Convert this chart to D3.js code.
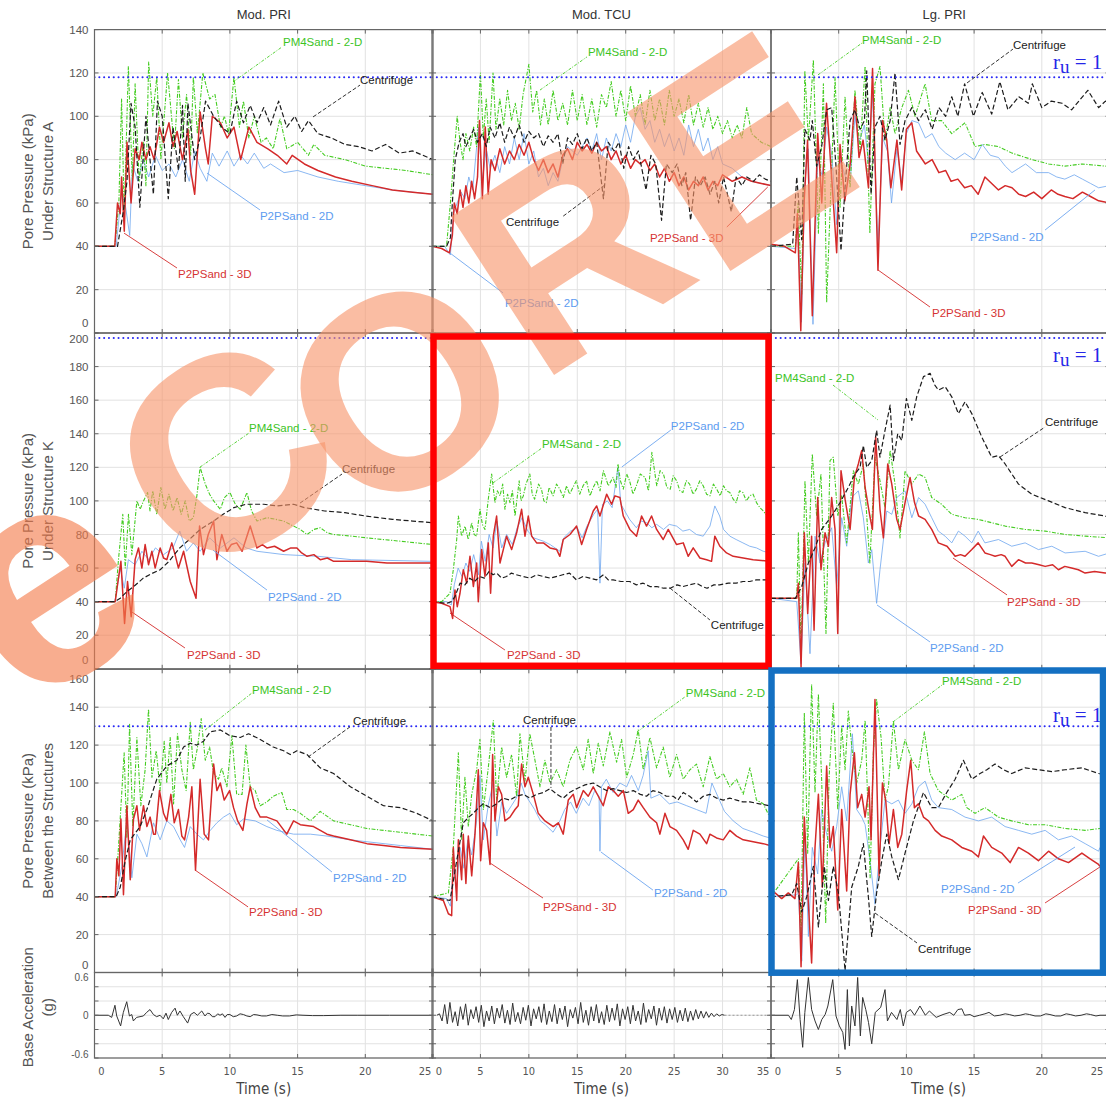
<!DOCTYPE html>
<html>
<head>
<meta charset="utf-8">
<script src="https://cdn.jsdelivr.net/npm/d3@7"></script>
<style>
  body { margin: 0; background: #fff; }
  text { font-family: "Liberation Sans", Arial, sans-serif; }
</style>
</head>
<body>
<div id="chart"></div>
<script>
// ---- pore pressure series, [time (s), kPa] ----
// Under Structure A
const a_pri_3d = [[0,40],[1.5,40],[1.7,60],[1.9,55],[2.0,72],[2.2,47],[2.4,88],[2.7,60],[3.0,85],[3.3,80],[3.5,88],[3.8,80],[4.1,86],[4.4,80],[4.8,95],[5.1,88],[5.5,97],[5.8,86],[6.1,93],[6.5,80],[6.9,94],[7.1,75],[7.4,64],[7.8,102],[8.2,85],[8.4,78],[8.7,100],[9.3,97],[9.8,90],[10.3,95],[10.8,80],[11.4,95],[12,88],[12.8,85],[13.5,82],[14.2,78],[14.6,82],[15.5,78],[16.5,75],[17.8,72],[19,70],[20.5,68],[22,66],[23.5,65],[25,64]];
const a_pri_pm4 = [[0,40],[1.5,40],[1.8,60],[2.0,108],[2.2,55],[2.5,123],[2.8,70],[3.0,115],[3.3,70],[3.6,88],[3.8,68],[4.0,125],[4.3,100],[4.6,118],[4.9,80],[5.4,120],[5.9,85],[6.2,117],[6.5,90],[6.8,110],[7.1,82],[7.3,118],[7.6,92],[8.0,120],[8.5,108],[8.9,110],[9.3,95],[9.6,100],[9.9,92],[10.3,118],[10.7,95],[11.0,107],[11.4,90],[11.8,100],[12.3,88],[12.7,90],[13.2,85],[13.7,99],[14.2,85],[15.0,88],[15.8,82],[16.2,87],[17.0,82],[18.5,80],[20,77],[21.5,76],[23,75],[25,73]];
const a_pri_cf = [[0,40],[1.7,40],[2.1,55],[2.4,70],[2.7,106],[3.0,95],[3.35,58],[3.8,100],[4.1,80],[4.35,64],[4.65,107],[5.0,100],[5.45,62],[5.8,95],[6.2,75],[6.5,105],[6.7,70],[6.9,106],[7.4,80],[7.8,90],[8.2,107],[8.8,100],[9.4,95],[10.0,92],[10.5,107],[11.0,97],[11.5,105],[12.0,97],[12.5,104],[13.0,96],[13.6,107],[14.2,95],[14.8,100],[15.3,93],[15.8,98],[16.5,92],[17.5,90],[18.5,87],[19.5,86],[20.5,84],[21.5,87],[22.5,83],[23.5,84],[25,80]];
const a_pri_2d = [[0,40],[1.6,40],[2.0,65],[2.3,58],[2.6,45],[2.8,78],[3.2,70],[3.6,80],[4.0,72],[4.5,82],[5.0,75],[5.5,78],[6.0,72],[6.5,80],[7.0,70],[7.4,84],[7.8,76],[8.3,70],[8.7,83],[9.2,77],[9.8,84],[10.3,77],[10.8,82],[11.3,78],[11.8,83],[12.5,76],[13.0,78],[14,74],[15,75],[16.5,72],[18,70],[20,68],[22,66],[25,64]];

const a_tcu_3d = [[0,40],[1.0,39],[1.8,37],[2.1,45],[2.3,60],[2.6,55],[2.9,66],[3.2,58],[3.5,68],[3.8,60],[4.1,70],[4.4,62],[4.7,72],[4.9,98],[5.2,62],[5.5,95],[5.8,64],[6.1,80],[6.5,75],[7,85],[7.5,78],[8,84],[8.5,80],[9,87],[9.5,82],[10,88],[10.5,80],[11,75],[11.5,80],[12,74],[12.5,78],[13,72],[13.5,82],[14,85],[14.5,80],[15,88],[15.5,84],[16,87],[16.5,83],[17,88],[17.5,84],[18,86],[18.5,80],[19,84],[19.5,78],[20,82],[20.5,76],[21,80],[21.5,78],[22,80],[22.5,75],[23,78],[23.5,72],[24,76],[24.5,70],[25,74],[25.5,68],[26,72],[26.5,66],[27,70],[27.5,68],[28,72],[28.5,66],[29,70],[29.5,68],[30,73],[31,70],[32,72],[33,70],[34,69],[35,68]];
const a_tcu_cf = [[0,40],[1.5,40],[1.9,44],[2.1,60],[2.4,80],[2.8,88],[3.2,92],[3.5,86],[3.9,90],[4.3,94],[4.7,88],[5.2,92],[5.6,86],[6.0,95],[6.5,90],[7.0,97],[7.5,88],[8.0,95],[8.5,90],[9.0,96],[9.5,88],[10,93],[10.5,90],[11,92],[11.5,86],[12,91],[12.5,88],[13,92],[13.5,78],[14,90],[14.5,87],[15,92],[15.5,85],[16,90],[16.5,84],[17,88],[17.7,62],[18.2,88],[18.8,84],[19.3,88],[19.8,76],[20.3,86],[20.8,80],[21.3,84],[22.1,66],[22.6,82],[23.1,78],[23.7,52],[24.2,78],[24.8,74],[25.3,78],[25.8,68],[26.2,74],[26.7,52],[27.2,72],[27.7,68],[28.2,72],[28.7,64],[29.2,70],[29.6,60],[30.1,72],[30.9,56],[31.4,72],[32,68],[32.5,72],[33.2,70],[33.8,73],[34.4,71],[35,70]];
const a_tcu_pm4 = [[0,40],[1.5,40],[1.9,60],[2.2,78],[2.6,100],[2.9,88],[3.2,80],[3.5,92],[3.9,84],[4.3,95],[4.6,86],[5.0,120],[5.3,90],[5.6,108],[5.9,88],[6.3,120],[6.6,94],[7.0,108],[7.4,96],[7.8,112],[8.2,98],[8.6,106],[9.0,94],[9.4,110],[10.0,124],[10.4,102],[10.8,112],[11.2,96],[11.6,108],[12.0,96],[12.5,112],[13.0,98],[13.5,106],[14.0,96],[14.5,112],[15.0,98],[15.5,110],[16.0,96],[16.5,108],[17.0,95],[17.5,110],[18.0,104],[18.5,116],[19.0,100],[19.5,112],[20.0,98],[20.5,114],[21.0,100],[21.5,110],[22.0,96],[22.5,112],[23.0,98],[23.5,108],[24.0,96],[24.5,112],[25.0,100],[25.5,108],[26.0,97],[26.5,110],[27.0,96],[27.5,106],[28.0,95],[28.5,104],[29.0,94],[29.5,100],[30.0,92],[30.5,98],[31.0,90],[31.5,96],[32.0,90],[32.5,104],[33.0,92],[34.0,88],[35,86]];
const a_tcu_2d = [[0,40],[1.3,40],[1.9,36],[2.2,55],[2.6,60],[3.0,65],[3.4,62],[3.8,72],[4.2,66],[4.8,95],[5.2,70],[5.6,85],[6.0,76],[6.5,82],[7.0,74],[7.5,86],[8.0,78],[8.5,90],[9.0,80],[9.5,92],[10,78],[10.5,84],[11,72],[11.5,76],[12,68],[12.5,74],[13,70],[13.5,80],[14,86],[15,82],[16,90],[16.5,84],[17,92],[17.5,80],[18,90],[18.5,84],[19,92],[19.5,86],[20,96],[20.5,88],[21,100],[21.5,104],[22,94],[22.5,98],[23,88],[23.5,94],[24,86],[24.5,92],[25,84],[25.5,90],[26,82],[26.5,96],[27,86],[27.5,94],[28,84],[28.5,90],[29,80],[29.5,86],[30,78],[31,76],[32,72],[33,70],[34,69],[35,68]];

const a_lg_3d = [[0,41],[1.0,40],[1.8,37],[1.95,55],[2.2,1],[2.45,61],[2.7,89],[3.05,8],[3.45,92],[3.75,60],[4.1,106],[4.5,70],[4.85,37],[5.1,87],[5.45,61],[5.85,78],[6.2,109],[6.5,81],[6.8,89],[7.2,67],[7.5,122],[7.9,29],[8.25,98],[8.55,89],[8.85,67],[9.3,89],[9.65,66],[10.0,94],[10.4,97],[10.75,84],[11.4,78],[11.9,80],[12.4,74],[12.9,75],[13.3,70],[13.8,71],[14.3,67],[14.8,68],[15.3,64],[15.8,72],[16.3,69],[16.8,66],[17.3,68],[17.8,67],[18.3,64],[18.8,63],[19.4,65],[20,62],[20.7,66],[21.2,64],[21.7,63],[22.3,62],[23,65],[23.6,63],[24.2,61],[25,60]];
const a_lg_cf = [[0,40],[1.6,41],[1.9,72],[2.27,43],[2.5,94],[2.88,89],[3.05,98],[3.37,77],[3.74,86],[4.11,103],[4.48,104],[4.8,77],[5.17,38],[5.47,67],[5.84,98],[6.2,103],[6.58,94],[6.9,98],[7.07,121],[7.39,64],[7.68,95],[8.05,100],[8.42,89],[8.8,98],[9.16,120],[9.53,87],[9.9,98],[10.4,104],[10.9,98],[11.4,103],[11.9,94],[12.4,104],[12.9,100],[13.35,109],[13.8,100],[14.3,115],[14.95,100],[15.6,111],[16.3,101],[16.9,116],[17.5,103],[18.3,109],[19,106],[19.3,115],[20,104],[20.7,107],[21.5,106],[22.2,103],[23.4,112],[24.2,104],[24.7,107],[25,106]];
const a_lg_pm4 = [[0,40],[1.8,40],[2.0,60],[2.27,18],[2.5,121],[2.76,89],[3.13,126],[3.5,46],[3.87,115],[4.11,14],[4.73,118],[5.1,58],[5.47,109],[5.84,67],[6.2,112],[6.58,84],[6.95,123],[7.3,46],[7.68,115],[8.05,123],[8.42,89],[8.8,104],[9.16,92],[9.66,104],[10.15,112],[10.64,100],[11.38,115],[11.87,98],[12.6,98],[13.35,92],[14.33,97],[15.07,86],[15.8,87],[16.8,86],[17.8,83],[19.3,80],[20.5,78],[21.7,77],[23,78],[24.7,77],[25,77]];
const a_lg_2d = [[0,40],[1.8,39],[2.0,50],[2.25,5],[2.5,70],[2.75,85],[3.1,4],[3.45,80],[3.8,72],[4.1,95],[4.5,82],[4.85,50],[5.1,80],[5.5,72],[5.85,70],[6.2,100],[6.5,88],[6.9,96],[7.2,78],[7.5,110],[7.9,40],[8.25,90],[8.6,84],[8.9,60],[9.3,85],[9.65,70],[10.0,92],[10.4,98],[10.9,97],[11.4,90],[11.9,92],[12.4,86],[12.9,83],[13.6,80],[14.3,83],[15.0,80],[15.6,87],[16.2,82],[16.8,81],[17.3,77],[17.8,74],[18.3,76],[18.8,78],[19.6,74],[20.5,74],[21.1,72],[21.7,71],[22.4,73],[23,71],[23.6,69],[24.2,67],[25,68]];

// Under Structure K
const k_pri_3d = [[0,40],[1.53,40],[1.7,50],[1.95,64],[2.22,27],[2.44,52],[2.71,31],[3.0,65],[3.25,72],[3.5,60],[3.74,74],[3.99,62],[4.24,70],[4.48,60],[4.85,72],[5.1,66],[5.34,65],[5.71,75],[5.95,68],[6.2,60],[6.58,70],[7.07,52],[7.5,42],[7.76,85],[8.05,68],[8.4,80],[8.8,88],[9.04,65],[9.4,80],[9.78,70],[10.1,74],[10.5,75],[10.9,70],[11.5,85],[12.0,72],[12.4,74],[12.73,72],[13.3,73],[13.97,70],[14.5,72],[14.95,72],[15.3,69],[15.7,67],[16.2,68],[16.67,65],[17.2,66],[17.66,64],[19,64],[20.1,64],[21.6,63],[23,63],[25,63]];
const k_pri_pm4 = [[0,40],[1.53,40],[1.77,65],[2.09,92],[2.27,60],[2.51,92],[2.76,68],[3.13,100],[3.37,95],[3.62,100],[3.92,105],[4.1,94],[4.3,106],[4.6,92],[4.9,108],[5.2,95],[5.5,104],[5.8,94],[6.1,102],[6.4,92],[6.7,100],[7.0,88],[7.3,90],[7.56,103],[7.8,120],[8.18,110],[8.5,104],[8.8,100],[9.29,95],[9.6,102],[10.0,105],[10.4,98],[10.76,95],[11.26,105],[11.6,94],[12.0,88],[12.73,90],[13.4,89],[13.97,88],[14.7,85],[15.2,83],[15.7,80],[16.2,83],[16.67,84],[17.2,81],[17.66,80],[19,79],[20.1,78],[21.3,77],[22.6,76],[25,74]];
const k_pri_cf = [[0,40],[1.5,40],[1.9,42],[2.4,46],[2.9,49],[3.6,54],[4.3,57],[4.85,59],[5.5,64],[6.3,72],[7.0,77],[7.8,83],[8.8,88],[9.5,92],[10.3,96],[11.2,98],[12.5,98],[13.5,97],[14.7,98],[15.5,96],[17,94],[18.5,93],[20,91],[22,89],[23.5,88],[25,87]];
const k_pri_2d = [[0,40],[1.5,40],[1.9,60],[2.2,48],[2.5,65],[3.0,62],[3.5,70],[4.0,65],[4.5,72],[5.1,68],[5.8,72],[6.3,82],[6.8,70],[7.3,75],[7.8,70],[8.5,78],[9.3,72],[10.3,78],[11.2,72],[12.0,70],[14,68],[16.5,67],[19,65],[25,64]];

const k_tcu_3d = [[0,40],[1.0,39],[1.86,37],[2.13,30],[2.37,47],[2.61,37],[2.89,45],[3.23,59],[3.58,51],[3.92,67],[4.27,49],[4.61,63],[4.78,40],[5.13,71],[5.47,55],[5.81,75],[6.05,45],[6.33,79],[6.67,91],[7.02,63],[7.36,71],[7.7,79],[8.22,71],[8.74,81],[9.25,95],[9.6,79],[9.94,91],[10.29,79],[10.8,75],[11.5,75],[12.18,72],[12.87,71],[13.2,67],[13.55,77],[14.24,80],[14.93,85],[15.45,74],[15.96,83],[16.65,94],[17.0,97],[17.34,91],[18.03,104],[18.54,98],[18.89,103],[19.4,102],[19.75,91],[20.43,83],[21.12,79],[21.64,91],[22.15,85],[22.67,91],[23.19,83],[23.87,77],[24.39,83],[25.25,74],[25.94,75],[26.45,67],[26.97,72],[27.66,66],[28.35,65],[28.86,64],[29.2,79],[29.72,73],[30.41,69],[31.1,67],[32.13,66],[33.16,65],[34.88,64]];
const k_tcu_cf = [[0,40],[1.5,39],[2.0,40],[2.37,43],[2.89,51],[3.4,50],[3.9,54],[4.4,52],[4.9,55],[5.4,54],[5.9,58],[6.3,56],[6.67,57],[7.2,54],[7.7,55],[8.2,57],[8.7,56],[9.4,55],[10.1,54],[10.8,56],[11.5,55],[12.2,54],[12.9,55],[13.5,56],[14.2,57],[14.9,53],[15.6,55],[16.3,54],[17.0,53],[17.7,56],[18.2,53],[18.7,53],[19.5,52],[20.4,52],[21.1,50],[21.8,51],[22.5,49],[23.2,49],[23.9,48],[24.6,48],[25.3,50],[25.9,49],[26.6,50],[27.3,51],[27.9,49],[28.4,48],[29.1,50],[29.7,50],[30.6,51],[31.4,51],[32.1,52],[32.8,52],[33.5,53],[34.2,53],[35,53]];
const k_tcu_pm4 = [[0,40],[1.0,40],[1.86,45],[2.2,59],[2.55,77],[2.72,91],[3.06,79],[3.4,85],[3.75,77],[4.1,87],[4.35,80],[4.61,79],[4.95,95],[5.2,86],[5.47,83],[5.81,101],[6.16,116],[6.5,99],[6.75,106],[7.02,103],[7.3,110],[7.53,95],[7.8,104],[8.05,99],[8.3,106],[8.57,91],[9.0,112],[9.2,100],[9.43,103],[9.7,110],[10.1,116],[10.35,104],[10.6,101],[11.0,110],[11.3,107],[11.55,100],[11.8,99],[12.1,108],[12.5,103],[12.85,110],[13.2,107],[13.55,102],[13.9,109],[14.2,104],[14.9,112],[15.25,104],[15.6,109],[15.95,112],[16.3,103],[16.65,108],[17.0,112],[17.35,106],[17.7,118],[18.2,109],[18.7,114],[19.0,108],[19.2,122],[19.45,112],[19.75,107],[20.1,116],[20.4,112],[20.75,104],[21.1,109],[21.5,116],[22.0,114],[22.35,106],[22.7,129],[23.2,109],[23.55,118],[23.9,116],[24.25,108],[24.6,107],[24.9,115],[25.25,112],[25.6,106],[25.9,105],[26.25,112],[26.6,110],[26.95,104],[27.3,107],[27.65,112],[28.0,109],[28.35,104],[28.7,103],[29.05,110],[29.4,107],[29.75,103],[30.1,109],[30.4,106],[30.75,105],[31.1,101],[31.4,99],[31.75,106],[32.1,105],[32.45,100],[32.8,103],[33.15,104],[33.5,99],[33.85,96],[34.2,94],[34.9,89]];
const k_tcu_2d = [[0,40],[1.5,40],[2.0,38],[2.3,50],[2.7,60],[3.1,55],[3.5,63],[3.9,58],[4.3,68],[4.8,56],[5.1,76],[5.5,64],[5.9,80],[6.3,72],[6.7,88],[7.2,72],[7.7,80],[8.3,74],[8.8,84],[9.3,90],[9.9,82],[10.5,78],[11.5,76],[12.2,74],[13.2,70],[13.6,78],[14.3,82],[15.0,84],[15.5,78],[16.0,85],[16.7,92],[17.1,95],[17.34,51],[17.6,98],[18.1,100],[18.6,96],[19.2,120],[19.5,98],[20.4,89],[21.1,84],[21.6,88],[22.15,87],[22.7,84],[23.2,86],[23.9,83],[24.5,86],[25.25,85],[25.9,82],[26.6,83],[27.3,80],[28.0,79],[28.7,85],[29.2,97],[29.7,91],[30.1,83],[30.75,79],[31.4,77],[32.1,75],[32.8,73],[33.5,72],[34.2,70],[34.9,69]];

const k_lg_3d = [[0,42],[1.9,42],[2.02,51],[2.22,1],[2.46,81],[2.71,33],[3.0,79],[3.18,23],[3.45,102],[3.69,59],[3.99,81],[4.24,73],[4.48,102],[4.73,83],[4.93,21],[5.17,118],[5.47,101],[5.84,83],[6.16,114],[6.45,122],[6.7,130],[6.95,108],[7.3,91],[7.49,83],[7.73,138],[8.05,95],[8.3,78],[8.62,122],[8.92,110],[9.29,89],[9.53,83],[9.9,99],[10.27,114],[10.6,99],[10.9,91],[11.38,89],[11.87,83],[12.36,75],[13.0,73],[13.6,67],[14.0,68],[14.33,67],[14.83,71],[15.3,75],[15.8,69],[16.2,68],[16.55,67],[17.0,68],[17.29,67],[17.78,61],[18.28,65],[18.8,63],[19.26,63],[19.8,62],[20.25,61],[20.8,62],[21.23,59],[21.7,61],[22.2,60],[22.7,59],[23.2,57],[23.9,58],[24.68,57],[25,57]];
const k_lg_pm4 = [[0,42],[1.9,42],[2.02,81],[2.22,10],[2.51,112],[2.76,63],[3.05,128],[3.37,91],[3.69,116],[4.06,21],[4.36,124],[4.6,126],[4.93,91],[5.22,103],[5.59,75],[6.08,118],[6.45,110],[6.82,122],[7.3,63],[7.68,126],[8.05,112],[8.42,96],[8.8,130],[9.16,110],[9.53,78],[9.9,118],[10.4,110],[10.9,116],[11.38,114],[11.87,102],[12.6,98],[13.35,92],[14.33,90],[15.3,89],[16.3,87],[17.29,85],[18.77,83],[20.25,82],[21.72,80],[23.2,79],[25,78]];
const k_lg_cf = [[0,42],[1.8,42],[2.27,49],[2.76,63],[3.25,72],[3.74,83],[4.48,91],[5.1,99],[5.71,108],[6.2,116],[6.58,120],[6.82,133],[7.07,120],[7.44,124],[7.8,142],[8.05,126],[8.42,142],[8.8,157],[9.04,124],[9.36,140],[9.66,136],[10.0,161],[10.4,148],[10.76,162],[11.26,174],[11.75,176],[12.1,169],[12.36,166],[12.86,168],[13.35,162],[13.84,152],[14.33,159],[14.83,152],[15.57,138],[16.3,126],[16.8,127],[17.29,122],[18.28,110],[19.26,104],[20.5,100],[21.72,96],[23.2,93],[24.68,91],[25,90]];
const k_lg_2d = [[0,42],[1.9,40],[2.22,3],[2.51,63],[2.88,9],[3.25,79],[3.62,63],[3.99,75],[4.48,84],[4.85,49],[5.22,90],[5.59,73],[5.96,102],[6.45,106],[6.82,90],[7.19,63],[7.44,71],[7.8,39],[8.05,59],[8.55,94],[8.92,92],[9.29,102],[9.9,106],[10.4,90],[10.9,102],[11.38,98],[11.87,90],[12.36,82],[12.86,79],[13.35,75],[13.84,82],[14.33,79],[14.83,75],[15.3,82],[15.8,75],[16.8,77],[17.78,73],[18.77,75],[19.75,71],[20.74,73],[21.72,69],[23.2,70],[24.19,67],[25,69]];

// Between the Structures
const b_pri_3d = [[0,40],[1.53,40],[1.65,60],[1.8,51],[1.95,81],[2.14,41],[2.39,88],[2.64,49],[2.88,81],[3.13,88],[3.33,75],[3.62,88],[3.87,77],[4.11,82],[4.36,73],[4.5,73],[4.8,96],[5.1,84],[5.34,80],[5.64,94],[5.89,79],[6.2,86],[6.45,72],[6.65,70],[6.95,82],[7.19,98],[7.46,54],[7.8,102],[8.1,73],[8.42,70],[8.8,110],[9.04,96],[9.29,100],[9.58,91],[9.98,96],[10.27,87],[10.57,80],[10.96,75],[11.26,89],[11.5,98],[11.87,87],[12.24,82],[12.73,82],[13.47,80],[14.2,73],[14.7,80],[15.2,78],[16.18,77],[17.17,73],[17.66,72],[18.9,70],[20.12,68],[21.35,67],[22.6,66],[25,65]];
const b_pri_pm4 = [[0,40],[1.53,40],[1.77,66],[2.19,116],[2.39,71],[2.59,131],[2.83,77],[3.13,124],[3.42,88],[3.74,107],[3.99,139],[4.24,103],[4.56,117],[4.85,96],[5.15,122],[5.34,100],[5.59,124],[5.84,89],[6.13,126],[6.45,107],[6.77,96],[7.07,132],[7.3,107],[7.61,119],[7.88,134],[8.18,112],[8.5,119],[8.8,105],[9.16,102],[9.4,108],[9.78,98],[10.15,125],[10.5,94],[10.9,94],[11.18,120],[11.5,98],[11.87,96],[12.24,88],[12.73,90],[13.2,93],[13.84,95],[14.2,86],[14.7,86],[15.2,84],[15.94,80],[16.67,85],[17.66,80],[18.9,78],[20.12,76],[21.35,75],[22.6,74],[25,72]];
const b_pri_cf = [[0,40],[1.6,40],[1.9,45],[2.27,59],[2.64,70],[3.37,77],[3.87,86],[4.6,102],[5.34,109],[6.08,112],[6.58,119],[7.07,121],[7.56,120],[8.05,122],[8.55,127],[9.29,128],[10.0,125],[10.76,124],[11.38,126],[12.24,123],[13.2,119],[13.97,117],[14.46,115],[14.95,117],[15.7,115],[16.67,108],[17.66,105],[18.9,98],[20.12,93],[21.35,88],[22.6,87],[23.8,84],[25,80]];
const b_pri_2d = [[0,40],[1.6,40],[2.02,56],[2.39,80],[2.76,50],[3.13,73],[3.5,68],[3.87,61],[4.36,79],[4.85,70],[5.34,80],[5.84,77],[6.33,70],[6.65,66],[7.07,77],[7.56,73],[8.05,70],[8.55,75],[9.04,79],[9.53,82],[10.0,84],[10.5,78],[11.0,81],[11.87,80],[12.73,77],[13.47,75],[14.7,73],[15.94,73],[17.17,72],[18.9,70],[20.12,69],[22.6,67],[25,65]];

const b_tcu_3d = [[0,40],[1.17,38],[1.69,31],[2.03,30],[2.2,66],[2.55,38],[2.72,70],[3.06,49],[3.23,73],[3.5,47],[3.75,72],[4.1,51],[4.44,73],[4.78,107],[5.02,59],[5.3,79],[5.64,75],[5.99,57],[6.26,115],[6.5,80],[6.85,98],[7.19,94],[7.53,80],[8.05,82],[8.57,86],[8.9,88],[9.25,110],[9.6,98],[9.94,103],[10.46,94],[10.97,84],[11.66,80],[12.52,77],[13.04,79],[13.55,73],[14.07,91],[14.59,94],[14.93,87],[15.62,96],[16.13,93],[16.65,98],[17.17,93],[17.68,88],[18.2,98],[18.71,96],[19.23,93],[19.75,96],[20.26,84],[20.78,86],[21.29,91],[21.81,87],[22.5,82],[23.19,79],[23.53,73],[24.05,84],[24.56,77],[25.25,75],[25.94,70],[26.45,65],[26.97,75],[27.66,73],[28.35,68],[28.69,73],[29.38,71],[30.07,70],[30.75,75],[31.44,72],[32.13,70],[33.16,69],[34.2,68],[34.88,67]];
const b_tcu_cf = [[0,40],[1.86,38],[2.55,59],[3.23,79],[3.8,82],[4.27,84],[4.8,87],[5.3,89],[6.0,87],[6.67,89],[7.3,92],[8.05,91],[8.7,93],[9.43,94],[10.1,92],[10.8,94],[11.5,95],[12.18,97],[12.9,94],[13.55,92],[14.2,95],[14.93,97],[15.8,99],[16.65,100],[17.3,98],[18.03,96],[18.7,97],[19.4,96],[20.1,95],[20.78,96],[21.5,94],[22.15,93],[22.8,96],[23.53,95],[24.2,93],[24.9,93],[25.4,91],[25.94,95],[26.6,93],[27.31,90],[28.0,93],[28.69,94],[29.4,92],[30.07,91],[30.75,92],[31.44,91],[32.1,90],[32.82,90],[33.8,89],[34.88,88]];
const b_tcu_pm4 = [[0,40],[1.69,42],[2.2,66],[2.72,116],[3.06,70],[3.4,103],[3.75,77],[4.1,94],[4.61,107],[4.95,123],[5.3,86],[5.81,108],[6.33,133],[6.67,91],[7.19,119],[7.7,103],[8.22,115],[8.74,93],[9.08,126],[9.6,101],[10.1,126],[10.63,112],[11.15,98],[11.66,112],[12.18,100],[12.87,107],[13.55,98],[14.24,112],[14.93,119],[15.62,107],[16.13,123],[16.65,105],[17.17,121],[17.68,109],[18.37,127],[19.06,111],[19.57,123],[20.1,103],[20.78,115],[21.29,128],[21.81,107],[22.5,124],[23.19,108],[23.87,119],[24.56,103],[25.25,115],[25.94,102],[26.63,107],[27.31,110],[28.0,98],[28.69,114],[29.38,102],[30.07,105],[30.75,98],[31.44,102],[32.13,94],[32.82,108],[33.5,91],[34.2,89],[34.88,82]];
const b_tcu_2d = [[0,40],[1.5,39],[1.9,35],[2.2,55],[2.55,45],[2.9,66],[3.3,55],[3.7,70],[4.1,62],[4.6,80],[4.95,104],[5.3,70],[5.8,88],[6.3,100],[6.7,72],[7.2,90],[7.7,84],[8.2,88],[8.7,92],[9.2,100],[9.6,94],[10.1,90],[10.6,86],[11.2,80],[11.7,78],[12.5,74],[13.2,80],[13.7,86],[14.3,90],[14.9,84],[15.6,92],[16.2,88],[16.8,96],[17.25,93],[17.34,64],[17.5,98],[18.0,102],[18.7,95],[19.4,100],[20.1,98],[20.6,104],[21.3,96],[21.8,104],[22.32,117],[22.6,92],[23.5,94],[24.5,89],[25.3,90],[26.3,88],[27.3,86],[28.3,84],[28.9,100],[29.5,93],[30.2,85],[31.1,80],[32.1,76],[33.2,74],[34.2,72],[34.88,71]];

const b_lg_3d = [[0,42],[0.3,42],[0.79,39],[1.28,42],[1.77,39],[2.02,58],[2.22,3],[2.46,82],[2.71,43],[3.0,5],[3.25,66],[3.5,94],[3.79,45],[4.11,109],[4.36,66],[4.6,77],[4.93,33],[5.22,86],[5.59,43],[5.84,94],[6.16,116],[6.4,87],[6.7,94],[6.95,82],[7.24,98],[7.39,70],[7.68,144],[7.98,51],[8.23,100],[8.47,91],[8.72,68],[9.04,86],[9.36,66],[9.66,73],[10.02,96],[10.32,112],[10.59,87],[10.89,89],[11.26,82],[11.63,80],[12.12,75],[12.61,72],[13.35,70],[14.09,66],[14.83,64],[15.32,61],[15.69,72],[16.3,66],[17.04,63],[17.66,58],[18.28,66],[19.01,63],[19.75,59],[20.5,64],[21.23,60],[21.97,58],[22.96,63],[23.57,60],[24.19,57],[24.3,56]];
const b_lg_cf = [[0,40],[1.53,41],[1.9,47],[2.27,32],[2.64,40],[3.13,56],[3.5,24],[3.94,56],[4.24,38],[4.6,56],[4.98,42],[5.47,1],[5.96,45],[6.45,56],[6.82,68],[7.19,40],[7.44,19],[7.8,42],[8.18,59],[8.55,73],[8.92,61],[9.41,49],[9.9,63],[10.52,80],[11.26,95],[11.87,87],[12.36,87],[12.98,95],[13.6,102],[14.21,112],[14.83,102],[15.44,105],[15.94,107],[16.55,110],[17.17,107],[17.78,105],[18.77,108],[19.75,107],[20.74,106],[21.72,107],[22.96,108],[24.19,105],[25,104]];
const b_lg_pm4 = [[0,40],[2.02,60],[2.22,20],[2.46,137],[2.71,63],[3.0,152],[3.25,95],[3.5,147],[3.74,102],[4.04,26],[4.29,103],[4.6,142],[4.93,86],[5.22,130],[5.47,107],[5.71,138],[6.01,116],[6.33,100],[6.7,112],[6.95,133],[7.32,50],[7.56,116],[7.8,144],[8.13,124],[8.42,91],[8.67,98],[9.04,133],[9.41,107],[9.9,123],[10.4,112],[10.89,107],[11.33,127],[11.75,105],[12.36,96],[13.35,91],[14.09,94],[14.46,87],[15.07,84],[15.81,87],[16.8,82],[17.78,80],[19.01,78],[20.25,78],[21.72,76],[23.2,75],[24.3,76]];
const b_lg_2d = [[0,40],[1.9,41],[2.02,42],[2.27,6],[2.51,74],[2.76,19],[3.05,66],[3.45,52],[3.74,86],[4.11,73],[4.48,64],[4.85,77],[5.22,98],[5.59,80],[6.01,126],[6.33,86],[6.7,82],[6.95,78],[7.32,59],[7.68,36],[8.05,66],[8.42,91],[8.92,89],[9.41,91],[9.9,84],[10.4,89],[10.89,98],[11.38,101],[11.87,91],[12.36,87],[13.35,86],[14.33,82],[15.32,80],[16.3,82],[17.29,77],[18.28,75],[19.26,73],[20.25,75],[21.23,70],[22.2,72],[23.2,68],[24.19,64],[24.3,66]];

// ---- base acceleration (g) ----
const acc_pri = [[0,0],[1.02,0],[1.27,-0.03],[1.51,0.14],[1.64,-0.01],[1.93,-0.15],[2.13,0.04],[2.38,0.19],[2.58,-0.01],[2.75,0.01],[2.87,-0.08],[3.11,-0.03],[3.36,-0.02],[3.61,-0.01],[3.85,0.04],[4.1,0.08],[4.35,0.01],[4.59,-0.02],[4.84,0],[5.08,-0.05],[5.28,0.03],[5.45,-0.06],[5.7,0.04],[5.95,0.1],[6.12,0],[6.31,0.06],[6.56,-0.02],[6.88,-0.11],[7.1,0.01],[7.35,0.04],[7.6,0],[7.92,0.06],[8.16,-0.01],[8.35,0.03],[8.53,0.02],[8.7,-0.02],[8.9,-0.02],[9.1,0.02],[9.27,0],[9.45,0.02],[9.64,-0.03],[9.8,0.01],[10.0,0.01],[10.25,-0.02],[10.5,-0.01],[10.75,0.02],[11.0,0.01],[11.25,-0.01],[11.5,-0.02],[11.75,0.01],[12.0,0.005],[12.35,-0.01],[12.7,-0.01],[13.1,0.01],[13.5,0],[13.9,-0.01],[14.4,-0.01],[14.9,0.005],[15.4,0],[16.1,-0.005],[16.9,-0.005],[18.2,0],[19.4,0],[21.8,0],[24.8,0],[25,0]];
const acc_lg = [[0,0],[1.29,0],[1.5,-0.06],[1.73,0.08],[1.95,0.5],[2.15,-0.06],[2.34,-0.45],[2.5,0.04],[2.76,0.53],[3.0,0.08],[3.25,-0.08],[3.5,-0.2],[3.75,-0.06],[4.0,0.01],[4.2,0.13],[4.56,0.5],[4.8,-0.01],[5.05,-0.15],[5.3,-0.24],[5.47,-0.48],[5.64,0.36],[5.79,-0.43],[5.96,0.13],[6.2,-0.15],[6.4,0.53],[6.6,-0.29],[6.77,0.25],[7.0,0.08],[7.2,-0.1],[7.44,-0.4],[7.7,0.04],[8.1,0.11],[8.42,0.36],[8.6,-0.08],[8.9,0.04],[9.3,-0.06],[9.55,0.08],[9.77,-0.15],[10.0,0.04],[10.3,0.08],[10.6,0],[11.0,0.13],[11.4,0],[11.7,0.06],[12.2,-0.03],[12.7,0.01],[13.2,0.04],[13.5,0.0],[13.8,0.08],[14.1,0.09],[14.3,0],[14.7,0.01],[15.0,-0.02],[15.4,0],[15.8,0.02],[16.1,0.04],[16.5,-0.01],[16.9,0],[17.3,0.02],[17.6,0.01],[18.0,-0.01],[18.4,0],[18.8,0.02],[19.1,0.01],[19.5,-0.01],[19.9,-0.01],[20.3,0.02],[20.6,0.01],[21.0,-0.01],[21.4,-0.01],[21.8,0.02],[22.1,0.01],[22.5,-0.01],[22.9,0],[23.3,0.02],[23.6,0.01],[24.0,-0.01],[24.3,0],[25,0]];
// Mod. TCU record, sampled every accTcuStep s from accTcuStart s
const accTcuStart = 0.5, accTcuStep = 0.27;
const acc_tcu = [0,0.02,-0.08,0.15,-0.12,0.18,-0.1,0.05,-0.15,0.12,-0.06,0.16,-0.14,0.08,-0.05,0.12,-0.1,0.14,-0.16,0.06,-0.08,0.13,-0.12,0.1,-0.04,0.15,-0.11,0.07,-0.13,0.17,-0.09,0.04,-0.12,0.11,-0.07,0.14,-0.15,0.09,-0.05,0.12,-0.1,0.16,-0.13,0.06,-0.09,0.15,-0.12,0.1,-0.06,0.13,-0.16,0.08,-0.04,0.11,-0.12,0.18,-0.1,0.07,-0.14,0.12,-0.08,0.15,-0.11,0.05,-0.13,0.14,-0.09,0.1,-0.07,0.16,-0.15,0.09,-0.06,0.12,-0.12,0.14,-0.08,0.06,-0.13,0.17,-0.1,0.08,-0.05,0.13,-0.14,0.1,-0.07,0.12,-0.11,0.09,-0.06,0.11,-0.1,0.07,-0.08,0.1,-0.09,0.06,-0.07,0.08,-0.05,0.06,-0.04,0.05,-0.03,0.03,-0.02,0.02,-0.01,0.01,0];

// ---- labels ----
const colTitles = ["Mod. PRI", "Mod. TCU", "Lg. PRI"];
const rowTitles = [["Pore Pressure (kPa)", "Under Structure A"], ["Pore Pressure (kPa)", "Under Structure K"], ["Pore Pressure (kPa)", "Between the Structures"], ["Base Acceleration", "(g)"]];
const timeTicks = [[0,5,10,15,20,25], [0,5,10,15,20,25,30,35], [0,5,10,15,20,25]];
const ppTicks = [[0,20,40,60,80,100,120,140], [0,20,40,60,80,100,120,140,160,180,200], [0,20,40,60,80,100,120,140,160]];
const accTicks = [-0.6, 0, 0.6];
const ruLevels = [118, 197, 130]; // r_u = 1 for each row
const names = {pm4: "PM4Sand - 2-D", p2d: "P2PSand - 2D", p3d: "P2PSand - 3D", cf: "Centrifuge"};
const watermark = ["e", "C", "O", "R", "E"];

// callouts: [series, text anchor (t, kPa), leader from, leader to]
const notes = [
  [["pm4",[13.92,132.4],[10.23,115.8],[13.85,132]], ["cf",[19.61,114.9],[16.14,99.7],[19.61,114.4]], ["p2d",[12.22,52.1],[8.31,73.8],[12.22,56.8]], ["p3d",[6.17,25.4],[2.18,46.1],[6.09,30]]],
  [["pm4",[16.1,127.8],[11.15,112.1],[16.0,127.4]], ["cf",[7.64,49.4],[17.85,68.3],[13.42,53.5]], ["p2d",[7.53,12.0],[1.86,36.9],[7.33,18.5]], ["p3d",[22.5,42],[30.44,48.9],[34.67,67.4]]],
  [["pm4",[6.72,133.4],[3.47,119.1],[6.72,133.8]], ["cf",[17.87,131],[14.48,115.4],[17.87,131]], ["p2d",[14.7,42.5],[20.24,47.5],[23.93,66]], ["p3d",[11.89,7.4],[7.9,29.1],[11.74,12]]],
  [["pm4",[11.41,140.9],[7.79,120.1],[11.41,140.4]], ["cf",[18.28,116.6],[15.18,98.7],[18.28,116]], ["p2d",[12.81,40.3],[8.75,70.7],[12.74,46.9]], ["p3d",[6.83,5.8],[2.77,33.8],[6.68,12.4]]],
  [["pm4",[11.35,131.5],[6.3,110.7],[11.35,131.5]], ["p2d",[24.66,142.2],[19.6,120.2],[24.66,142.2]], ["cf",[28.79,23.7],[24.56,48.1],[28.69,29.1]], ["p3d",[7.74,5.8],[1.86,33.2],[7.53,11.2]]],
  [["pm4",[0.3,170.7],[4.58,169],[7.9,148.2]], ["cf",[20.24,144.6],[16.91,126.1],[20.24,144]], ["p3d",[17.43,37.4],[13.44,66],[17.43,44]], ["p2d",[11.74,10.0],[7.83,38],[11.74,16]]],
  [["pm4",[11.63,147],[8.16,127.9],[11.63,147.5]], ["cf",[19.09,130.6],[15.77,113.7],[18.87,129.6]], ["p2d",[17.61,47.8],[12.74,80.5],[17.54,53]], ["p3d",[11.41,29.8],[7.42,54.1],[11.34,34.6]]],
  [["pm4",[26.21,145.4],[21.16,126.9],[26.11,145.4]], ["cf",[9.39,131.1],[12.28,129.6],[12.28,97.4]], ["p2d",[22.91,39.8],[17.44,63.6],[22.81,43.5]], ["p3d",[11.46,32.5],[5.99,57.8],[11.46,39.3]]],
  [["pm4",[12.63,151.7],[9.01,132.2],[12.63,151.7]], ["p2d",[12.56,42],[18.24,47.2],[22.45,66.2]], ["p3d",[14.55,30.9],[20.24,36.7],[24.3,55.7]], ["cf",[10.86,10.3],[7.68,31.4],[10.78,15.6]]]
];

const panelSeries = [
  {pm4: a_pri_pm4, p2d: a_pri_2d, p3d: a_pri_3d, cf: a_pri_cf},
  {pm4: a_tcu_pm4, p2d: a_tcu_2d, p3d: a_tcu_3d, cf: a_tcu_cf},
  {pm4: a_lg_pm4, p2d: a_lg_2d, p3d: a_lg_3d, cf: a_lg_cf},
  {pm4: k_pri_pm4, p2d: k_pri_2d, p3d: k_pri_3d, cf: k_pri_cf},
  {pm4: k_tcu_pm4, p2d: k_tcu_2d, p3d: k_tcu_3d, cf: k_tcu_cf},
  {pm4: k_lg_pm4, p2d: k_lg_2d, p3d: k_lg_3d, cf: k_lg_cf},
  {pm4: b_pri_pm4, p2d: b_pri_2d, p3d: b_pri_3d, cf: b_pri_cf},
  {pm4: b_tcu_pm4, p2d: b_tcu_2d, p3d: b_tcu_3d, cf: b_tcu_cf},
  {pm4: b_lg_pm4, p2d: b_lg_2d, p3d: b_lg_3d, cf: b_lg_cf}
];
const accSeries = [acc_pri, acc_tcu.map((v, i) => [accTcuStart + i * accTcuStep, v]), acc_lg];

// ---- layout ----
const W = 1106, H = 1099;
const colBox = [[94.5, 433], [432, 771], [771, 1109.5]];
const rowBox = [[29.6, 333], [333, 668.8], [669.3, 972.5], [972.5, 1058]];
const tMax = [25, 35, 25];
const yDom = [[0, 140], [0, 200], [0, 160], [-0.6, 0.6]];
const yLabShift = [[0, -10], [6, -9], [10, -8], [5, -4]];
const ruTextDy = [-8, 24, -4];
const wmPos = [[50, 598], [222, 452], [398, 388], [568, 248], [738, 148]];
const wmSize = [305, 275, 275, 275, 275];

const style = {
  p2d: {stroke: "#6ea6ef", width: 1, dash: null, op: 0.8, txt: "#5d9cf0"},
  pm4: {stroke: "#45cc22", width: 1.1, dash: "4,1.5,1.2,1.5", op: 1, txt: "#3cc41f"},
  p3d: {stroke: "#d42a2a", width: 1.5, dash: null, op: 1, txt: "#d63333"},
  cf:  {stroke: "#1c1c1c", width: 1.2, dash: "5,2.5", op: 1, txt: "#222"}
};
const drawOrder = ["p2d", "pm4", "p3d", "cf"];

const svg = d3.select("#chart").append("svg").attr("width", W).attr("height", H);
const defs = svg.append("defs");

const xs = colBox.map((c, i) => d3.scaleLinear().domain([0, tMax[i]]).range(c));
const ys = rowBox.map((r, i) => d3.scaleLinear().domain(yDom[i]).range([r[1], r[0]]));

const gGrid = svg.append("g");
const gData = svg.append("g");
const gFrame = svg.append("g");
const gNotes = svg.append("g");

for (let r = 0; r < 4; r++) {
  for (let c = 0; c < 3; c++) {
    const x = xs[c], y = ys[r];
    const [x0, x1] = colBox[c], [y0, y1] = rowBox[r];
    const id = "clip" + r + c;
    defs.append("clipPath").attr("id", id).append("rect")
      .attr("x", x0).attr("y", y0).attr("width", x1 - x0).attr("height", y1 - y0);

    const yTicks = r < 3 ? ppTicks[r] : [-0.6, -0.4, -0.2, 0, 0.2, 0.4, 0.6];
    gGrid.append("g").selectAll("line").data(timeTicks[c]).join("line")
      .attr("x1", d => x(d)).attr("x2", d => x(d)).attr("y1", y0).attr("y2", y1)
      .attr("stroke", "#e2e2e2").attr("stroke-width", 1);
    gGrid.append("g").selectAll("line").data(yTicks).join("line")
      .attr("x1", x0).attr("x2", x1).attr("y1", d => y(d)).attr("y2", d => y(d))
      .attr("stroke", "#e2e2e2").attr("stroke-width", 1);

    // tick marks on all four sides
    const tk = gFrame.append("g").attr("stroke", "#666").attr("stroke-width", 1);
    timeTicks[c].forEach(t => {
      tk.append("line").attr("x1", x(t)).attr("x2", x(t)).attr("y1", y1).attr("y2", y1 - 4);
      tk.append("line").attr("x1", x(t)).attr("x2", x(t)).attr("y1", y0).attr("y2", y0 + 4);
    });
    yTicks.forEach(v => {
      tk.append("line").attr("x1", x0).attr("x2", x0 + 4).attr("y1", y(v)).attr("y2", y(v));
      tk.append("line").attr("x1", x1).attr("x2", x1 - 4).attr("y1", y(v)).attr("y2", y(v));
    });
    gFrame.append("rect").attr("x", x0).attr("y", y0).attr("width", x1 - x0).attr("height", y1 - y0)
      .attr("fill", "none").attr("stroke", "#666").attr("stroke-width", 1.2);

    const line = d3.line().x(d => x(d[0])).y(d => y(d[1]));
    const g = gData.append("g").attr("clip-path", `url(#${id})`);

    if (r < 3) {
      const ser = panelSeries[r * 3 + c];
      drawOrder.forEach(k => {
        const s = style[k];
        g.append("path").datum(ser[k]).attr("d", line)
          .attr("fill", "none").attr("stroke", s.stroke).attr("stroke-width", s.width)
          .attr("stroke-dasharray", s.dash).attr("stroke-opacity", s.op)
          .attr("stroke-linejoin", "round");
      });
      // r_u = 1 reference
      g.append("line").attr("x1", x0).attr("x2", x1)
        .attr("y1", y(ruLevels[r])).attr("y2", y(ruLevels[r]))
        .attr("stroke", "#2a2af5").attr("stroke-width", 2)
        .attr("stroke-dasharray", "0.1,4.7").attr("stroke-linecap", "round");

      notes[r * 3 + c].forEach(([k, pos, a, b]) => {
        const s = style[k];
        gNotes.append("line")
          .attr("x1", x(a[0])).attr("y1", y(a[1])).attr("x2", x(b[0])).attr("y2", y(b[1]))
          .attr("stroke", s.stroke).attr("stroke-width", 0.9)
          .attr("stroke-dasharray", k === "cf" ? "4,2" : (k === "pm4" ? "3,1.5,1,1.5" : null));
        gNotes.append("text").attr("x", x(pos[0])).attr("y", y(pos[1]))
          .attr("fill", s.txt).style("font-size", "11.5px").text(names[k]);
      });

      if (c === 2) {
        const ru = gNotes.append("text").attr("x", x(20.83)).attr("y", y(ruLevels[r]) + ruTextDy[r])
          .attr("fill", "#2626e8")
          .style("font-family", "'Liberation Serif', 'DejaVu Serif', serif").style("font-size", "21px");
        ru.append("tspan").text("r");
        ru.append("tspan").attr("dy", 4).style("font-size", "19px").text("u");
        ru.append("tspan").attr("dy", -4).text(" = 1");
      }
    } else {
      g.append("path").datum(accSeries[c]).attr("d", line)
        .attr("fill", "none").attr("stroke", "#333").attr("stroke-width", 1);
      if (c === 1) {
        const last = accSeries[c][accSeries[c].length - 1][0];
        g.append("line").attr("x1", x(last)).attr("x2", x(tMax[c])).attr("y1", y(0)).attr("y2", y(0))
          .attr("stroke", "#999").attr("stroke-dasharray", "2,2");
      }
    }

    // y tick labels on the first column
    if (c === 0) {
      const lab = r < 3 ? ppTicks[r] : accTicks;
      gNotes.append("g").selectAll("text").data(lab).join("text")
        .attr("x", x0 - 6)
        .attr("y", d => Math.min(Math.max(y(d), y0 + yLabShift[r][0]), y1 + yLabShift[r][1]))
        .attr("dy", "0.35em").attr("text-anchor", "end")
        .attr("fill", "#555").style("font-size", r < 3 ? "11.5px" : "10px").text(d => d);
    }
    // time labels on the bottom row
    if (r === 3) {
      const right = Math.min(x1, W);
      gNotes.append("g").selectAll("text").data(timeTicks[c]).join("text")
        .attr("x", d => Math.min(x(d) + (d === 0 ? 7 : (d === tMax[c] ? -8 : 0)), W - 9))
        .attr("y", 1075).attr("text-anchor", "middle").attr("fill", "#555")
        .style("font-family", "'Liberation Sans Narrow', 'DejaVu Sans Condensed', sans-serif")
        .style("font-size", "11px").text(d => d);
      gNotes.append("text").attr("x", (x0 + right) / 2).attr("y", 1094)
        .attr("text-anchor", "middle").attr("fill", "#444")
        .style("font-family", "'Liberation Sans Narrow', 'DejaVu Sans Condensed', sans-serif")
        .style("font-size", "15px").text("Time (s)");
    }
  }
}

// column titles
colTitles.forEach((t, i) => {
  svg.append("text").attr("x", (colBox[i][0] + colBox[i][1]) / 2 + (i === 2 ? 4 : 0)).attr("y", 19)
    .attr("text-anchor", "middle").attr("fill", "#333").style("font-size", "13px").text(t);
});
// row titles
rowTitles.forEach((lines, r) => {
  const cy = (rowBox[r][0] + rowBox[r][1]) / 2 + (r === 3 ? -8 : 0);
  lines.forEach((ln, j) => {
    svg.append("text").attr("transform", `translate(${33 + j * 20},${cy}) rotate(-90)`)
      .attr("text-anchor", "middle").attr("fill", "#555").style("font-size", "15px").text(ln);
  });
});

// watermark, one letter at a time
const wm = svg.append("g").attr("fill", "#f7946a").attr("fill-opacity", 0.62);
watermark.forEach((ch, i) => {
  wm.append("text").attr("transform", `translate(${wmPos[i][0]},${wmPos[i][1]}) rotate(-33)`)
    .attr("text-anchor", "middle").attr("dy", ch === "e" ? "0.27em" : "0.36em")
    .attr("fill", i === 0 ? "#f47a4a" : null)
    .style("font-size", wmSize[i] + "px").style("font-weight", "bold").text(ch);
});

// highlight boxes
svg.append("rect").attr("x", colBox[1][0] + 1.5).attr("y", rowBox[1][0] + 3.5)
  .attr("width", colBox[1][1] - colBox[1][0] - 4).attr("height", rowBox[1][1] - rowBox[1][0] - 6.5)
  .attr("fill", "none").attr("stroke", "#ff0000").attr("stroke-width", 6.5);
svg.append("rect").attr("x", colBox[2][0] + 0.5).attr("y", rowBox[2][0] + 1.2)
  .attr("width", 1103 - colBox[2][0] - 0.5).attr("height", rowBox[2][1] - rowBox[2][0] - 1)
  .attr("fill", "none").attr("stroke", "#1470c2").attr("stroke-width", 6.5);
</script>
</body>
</html>
